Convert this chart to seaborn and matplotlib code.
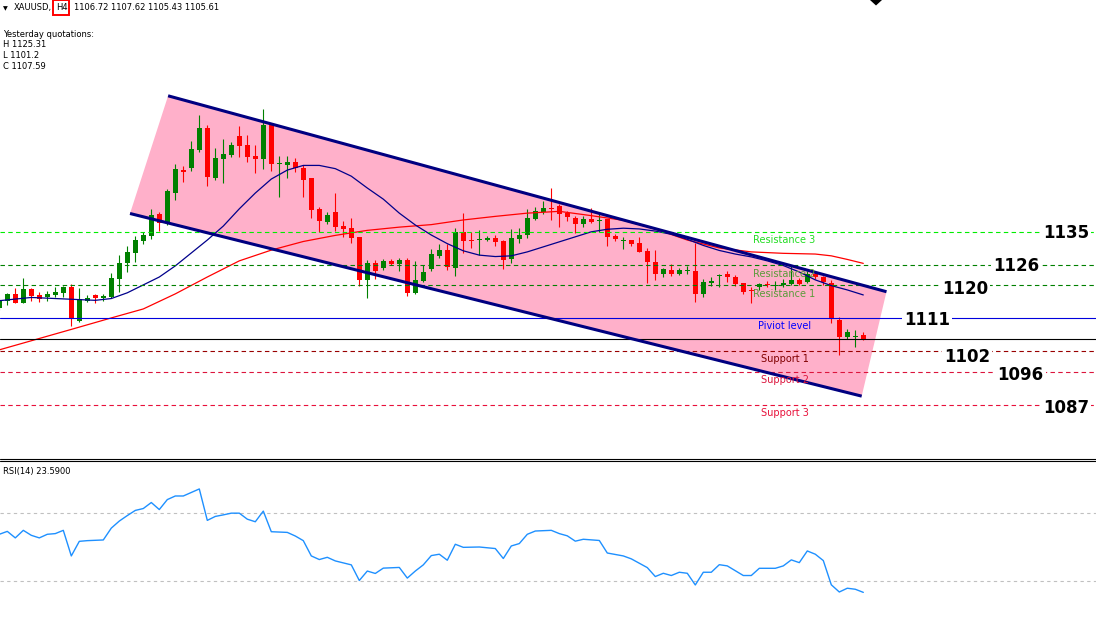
import numpy as np
import matplotlib
matplotlib.use('Agg')
import matplotlib.pyplot as plt
import seaborn as sns
from matplotlib.lines import Line2D
from matplotlib.patches import Rectangle, Polygon

sns.set_theme(style='white')
plt.rcParams['font.family'] = ['DejaVu Sans']

W, H = 1096, 620

# ---------------- data: XAUUSD H4 candles ----------------
opens = [1114.3, 1116.3, 1118.2, 1115.7, 1119.6, 1117.9, 1117.3, 1117.9, 1118.5, 1120.1,
         1110.7, 1116.3, 1117.9, 1117.1, 1117.3, 1122.4, 1126.8, 1129.7, 1133.0, 1134.4,
         1140.5, 1137.9, 1146.3, 1152.5, 1153.2, 1158.3, 1164.4, 1150.6, 1155.8, 1156.9,
         1162.2, 1159.7, 1156.6, 1155.8, 1165.6, 1154.5, 1154.2, 1155.0, 1153.3, 1150.5,
         1141.9, 1138.3, 1141.0, 1137.2, 1136.6, 1134.1, 1122.2, 1126.8, 1125.5, 1127.4,
         1126.6, 1127.6, 1118.5, 1121.9, 1125.2, 1128.8, 1130.4, 1125.5, 1135.5, 1133.2,
         1133.2, 1133.1, 1133.8, 1132.9, 1127.8, 1133.5, 1134.6, 1139.1, 1141.0, 1142.1,
         1142.7, 1140.7, 1139.4, 1137.7, 1139.1, 1138.5, 1139.1, 1134.4, 1132.9, 1133.2,
         1132.4, 1130.2, 1127.1, 1123.7, 1124.9, 1123.7, 1124.6, 1124.6, 1118.2, 1121.2,
         1123.2, 1123.7, 1122.9, 1121.2, 1119.3, 1120.1, 1120.7, 1120.4, 1120.7, 1121.0,
         1122.1, 1121.5, 1123.7, 1122.9, 1121.2, 1110.9, 1106.2, 1106.2, 1106.72]
highs = [1117.1, 1118.5, 1119.8, 1122.6, 1119.8, 1118.7, 1119.0, 1120.0, 1120.4, 1121.0,
         1119.8, 1117.9, 1118.2, 1118.2, 1124.0, 1129.0, 1131.5, 1134.3, 1135.5, 1141.9,
         1141.0, 1147.4, 1154.4, 1153.9, 1160.8, 1168.1, 1165.3, 1158.9, 1161.4, 1160.5,
         1165.0, 1162.5, 1159.7, 1169.7, 1165.8, 1156.6, 1156.6, 1156.1, 1154.1, 1150.5,
         1142.4, 1141.0, 1146.3, 1138.6, 1139.4, 1134.1, 1127.6, 1127.6, 1127.9, 1127.9,
         1128.2, 1128.2, 1127.4, 1126.3, 1130.7, 1132.1, 1132.1, 1136.6, 1140.6, 1135.5,
         1136.0, 1134.3, 1134.6, 1133.2, 1136.3, 1136.6, 1141.9, 1142.4, 1144.1, 1147.7,
         1143.3, 1141.3, 1139.9, 1139.9, 1142.1, 1140.5, 1139.1, 1134.9, 1134.1, 1133.2,
         1134.1, 1131.0, 1130.4, 1125.4, 1126.5, 1125.4, 1126.0, 1132.4, 1122.4, 1122.9,
         1123.7, 1124.6, 1123.5, 1121.2, 1120.1, 1121.2, 1121.8, 1121.8, 1122.4, 1126.3,
         1122.6, 1124.6, 1124.3, 1123.2, 1122.1, 1111.8, 1108.4, 1108.2, 1107.62]
lows = [1113.7, 1115.1, 1115.7, 1115.7, 1116.3, 1116.0, 1116.3, 1117.3, 1117.3, 1109.3,
        1110.4, 1116.0, 1115.7, 1116.3, 1117.1, 1118.7, 1124.4, 1127.2, 1132.2, 1133.6,
        1135.8, 1137.4, 1144.4, 1149.5, 1152.5, 1157.8, 1148.3, 1149.9, 1149.0, 1156.4,
        1156.4, 1155.0, 1152.0, 1153.0, 1152.5, 1145.3, 1150.6, 1152.3, 1145.3, 1139.4,
        1135.5, 1137.8, 1135.8, 1134.1, 1132.4, 1120.5, 1117.1, 1122.4, 1124.9, 1126.3,
        1124.7, 1117.7, 1118.3, 1121.6, 1124.7, 1128.3, 1124.9, 1123.3, 1129.7, 1131.0,
        1129.0, 1132.8, 1131.6, 1125.2, 1126.9, 1132.4, 1133.8, 1138.8, 1140.5, 1138.8,
        1136.8, 1138.5, 1135.2, 1136.8, 1138.0, 1135.5, 1131.6, 1132.9, 1130.7, 1131.6,
        1129.9, 1121.3, 1122.1, 1122.9, 1123.2, 1123.5, 1123.7, 1115.9, 1117.4, 1120.4,
        1120.1, 1121.5, 1120.4, 1118.2, 1115.7, 1119.3, 1120.1, 1119.3, 1120.1, 1120.7,
        1120.7, 1121.2, 1122.4, 1120.7, 1110.1, 1101.2, 1105.6, 1103.4, 1105.43]
closes = [1116.5, 1118.2, 1115.7, 1119.6, 1117.6, 1116.9, 1118.2, 1118.7, 1120.1, 1111.2,
          1116.8, 1117.1, 1117.1, 1117.6, 1122.6, 1126.8, 1129.9, 1133.2, 1134.6, 1140.1,
          1137.9, 1146.9, 1153.0, 1152.3, 1158.6, 1164.4, 1150.9, 1156.1, 1157.2, 1159.7,
          1159.4, 1156.4, 1155.8, 1165.3, 1154.5, 1154.7, 1155.0, 1153.4, 1150.0, 1141.7,
          1138.6, 1140.2, 1136.9, 1136.4, 1133.8, 1122.1, 1126.8, 1124.6, 1127.4, 1126.6,
          1127.6, 1118.5, 1122.1, 1124.3, 1129.3, 1130.4, 1125.8, 1135.5, 1132.9, 1132.9,
          1133.5, 1133.8, 1132.7, 1127.6, 1133.8, 1134.6, 1139.4, 1141.3, 1142.1, 1141.8,
          1140.5, 1139.6, 1137.7, 1139.1, 1138.2, 1138.8, 1134.1, 1133.5, 1133.2, 1132.1,
          1129.9, 1127.1, 1123.7, 1125.1, 1123.7, 1124.9, 1124.9, 1118.2, 1121.5, 1121.8,
          1123.5, 1122.9, 1121.0, 1118.7, 1119.0, 1121.0, 1120.6, 1120.7, 1121.2, 1122.1,
          1121.0, 1123.7, 1122.9, 1121.5, 1111.2, 1106.2, 1107.6, 1106.5, 1105.61]

# moving averages (at candle positions)
ma_fast_idx = [0, 4, 8, 12, 14, 16, 18, 20, 22, 24, 26, 28, 30, 32, 34, 36, 38, 40, 42, 44,
               46, 48, 50, 52, 54, 56, 58, 60, 62, 64, 66, 68, 70, 72, 74, 76, 78, 80, 82, 84,
               86, 88, 90, 92, 94, 96, 98, 100, 102, 104, 106, 108]
ma_fast = [1116.3, 1117.2, 1116.8, 1116.4, 1116.9, 1118.5, 1120.7, 1122.9, 1126.0, 1129.6,
           1133.2, 1137.1, 1141.9, 1146.3, 1150.2, 1152.7, 1154.0, 1154.0, 1153.1, 1151.0,
           1147.7, 1144.6, 1140.7, 1137.4, 1134.6, 1132.2, 1130.2, 1129.0, 1128.6, 1128.8,
           1129.9, 1131.3, 1132.7, 1134.1, 1135.5, 1136.2, 1136.5, 1136.3, 1135.7, 1134.8,
           1133.4, 1131.7, 1130.3, 1129.3, 1128.5, 1127.4, 1126.1, 1124.3, 1122.1, 1120.5,
           1119.3, 1117.9]
ma_slow_idx = [0, 9, 14, 18, 22, 26, 30, 34, 38, 42, 46, 50, 54, 58, 62, 66, 70, 74, 78, 82,
               86, 90, 94, 98, 102, 104, 106, 108]
ma_slow = [1102.6, 1108.3, 1111.5, 1114.0, 1118.2, 1122.9, 1127.4, 1130.4, 1132.8, 1134.5,
           1135.9, 1136.8, 1137.5, 1138.8, 1139.8, 1140.7, 1141.2, 1140.0, 1138.7, 1136.3,
           1133.2, 1131.0, 1129.9, 1129.5, 1129.3, 1128.8, 1127.8, 1126.7]

# RSI(14)
rsi_idx = [0, 1, 2, 3, 4, 5, 6, 7, 8, 9, 10, 11, 13, 14, 15, 16, 17, 18, 19, 20, 21, 22, 23, 25,
           26, 27, 28, 29, 30, 31, 32, 33, 34, 36, 37, 38, 39, 40, 41, 42, 44, 45, 46, 47, 48,
           50, 51, 52, 53, 54, 55, 56, 57, 58, 60, 62, 63, 64, 65, 66, 67, 69, 70, 71, 72, 73,
           75, 76, 78, 79, 81, 82, 83, 84, 85, 86, 87, 88, 89, 90, 91, 93, 94, 95, 97, 98, 99,
           100, 101, 102, 103, 104, 105, 106, 107, 108]
rsi_val = [57.4, 59.1, 55.3, 59.7, 56.8, 55.3, 57.4, 57.8, 59.7, 44.8, 53.3, 53.7, 54.1, 61.0,
           65.1, 68.3, 71.3, 72.4, 75.9, 71.8, 77.6, 79.7, 79.7, 83.8, 65.5, 67.8, 68.7, 69.7,
           69.7, 66.2, 64.7, 70.9, 58.9, 58.5, 56.4, 53.7, 44.8, 42.7, 44.0, 41.9, 39.6, 30.5,
           36.0, 34.6, 37.7, 38.1, 31.9, 36.0, 39.6, 45.0, 45.8, 42.3, 51.6, 49.8, 50.0, 49.1,
           43.3, 50.6, 52.0, 57.4, 59.3, 59.7, 57.8, 56.5, 53.4, 54.5, 53.8, 46.5, 44.8, 43.1,
           38.0, 32.8, 34.7, 33.4, 35.3, 34.7, 27.9, 35.3, 35.3, 39.7, 39.0, 33.4, 33.4, 37.6,
           37.6, 39.0, 42.5, 40.9, 47.7, 45.8, 42.1, 28.0, 23.8, 26.0, 25.4, 23.59]

# Fibonacci pivot levels
level_names = ['Resistance 3', 'Resistance 2', 'Resistance 1', 'Piviot level',
               'Support 1', 'Support 2', 'Support 3']
level_values = [1135.48, 1126.27, 1120.58, 1111.37, 1102.16, 1096.47, 1087.26]
level_tags = ['1135', '1126', '1120', '1111', '1102', '1096', '1087']
current_price = 1105.61

# descending channel end points (candle index, price)
chan_top_x = [21.1, 110.9]
chan_top_y = [1173.4, 1118.8]
chan_bot_x = [16.34, 107.8]
chan_bot_y = [1140.6, 1089.7]

header = ['1106.72', '1107.62', '1105.43', '1105.61']
yesterday = ['H 1125.31', 'L 1101.2', 'C 1107.59']
rsi_label = 'RSI(14) 23.5900'

# ---------------- figure ----------------
fig = plt.figure(figsize=(W / 100, H / 100), dpi=100)
fig.patch.set_facecolor('white')
ax = fig.add_axes([0, 1 - 458 / H, 1, 458 / H])
rax = fig.add_axes([0, 0, 1, 159 / H])
for a in (ax, rax):
    a.set_facecolor('white')
    a.set_xticks([])
    a.set_yticks([])
    for s in a.spines.values():
        s.set_visible(False)
    a.set_xlim(0.0875, 137.0875)
ax.set_ylim(1072.46, 1200.1)
rax.set_ylim(7.5, 100.07)

# pink channel fill
ax.fill([chan_top_x[0], chan_top_x[1], chan_bot_x[1], chan_bot_x[0]],
        [chan_top_y[0], chan_top_y[1], chan_bot_y[1], chan_bot_y[0]],
        color='#ffb0ca', lw=0, zorder=1)

# candles
o = np.array(opens); h = np.array(highs); l = np.array(lows); c = np.array(closes)
x = np.arange(len(o))
cols = np.where(c >= o, '#008000', '#ff0000')
ax.vlines(x, l, h, colors=cols, lw=0.8, zorder=3)
ax.bar(x, np.maximum(np.abs(c - o), 0.3), bottom=np.minimum(o, c), width=0.6,
       color=cols, lw=0, zorder=3)

# moving averages
sns.lineplot(x=ma_slow_idx, y=ma_slow, ax=ax, color='#ff0000', lw=0.9,
             estimator=None, sort=False, zorder=4)
sns.lineplot(x=ma_fast_idx, y=ma_fast, ax=ax, color='#00008b', lw=0.9,
             estimator=None, sort=False, zorder=4)

# pivot lines
dash = (0, (4, 3))
lvl_style = [('#00ee00', dash), ('#008000', dash), ('#008000', dash), ('#0000dd', '-'),
             ('#990000', dash), ('#dc143c', dash), ('#e8103a', dash)]
for v, (col, ls) in zip(level_values, lvl_style):
    ax.axhline(v, color=col, ls=ls, lw=0.8, zorder=5)
ax.axhline(current_price, color='black', lw=0.8, zorder=5)

# channel lines
ax.plot(chan_top_x, chan_top_y, color='#000080', lw=2.2, zorder=6, solid_capstyle='butt')
ax.plot(chan_bot_x, chan_bot_y, color='#000080', lw=2.2, zorder=6, solid_capstyle='butt')


def ftext(px, py, s, **kw):
    return fig.text(px / W, 1 - py / H, s, **kw)


# level name labels
name_pos = [(752.7, 242.7), (752.7, 276.7), (752.7, 296.7), (758.3, 329.3),
            (760.7, 362.5), (760.7, 383.3), (760.7, 416)]
name_col = ['#22dd22', '#5b9b3a', '#5b9b3a', '#0000ff', '#800000', '#dc143c', '#e8103a']
for (px, py), s, col in zip(name_pos, level_names, name_col):
    ftext(px, py, s, fontsize=7, color=col, va='baseline', ha='left', zorder=7)

# big price tags
tag_pos = [(1066, 238.3), (1016, 270.7), (965, 294), (927, 325),
           (967, 361.7), (1020.5, 380), (1066, 412.7)]
for (px, py), s in zip(tag_pos, level_tags):
    ftext(px, py, s, fontsize=12, fontweight='bold', color='black', ha='center',
          va='baseline', zorder=8,
          bbox=dict(facecolor='white', edgecolor='none', pad=1.5))

# RSI panel
rax.axhline(70, color='#c0c0c0', ls=(0, (3, 3)), lw=0.8)
rax.axhline(30, color='#c0c0c0', ls=(0, (3, 3)), lw=0.8)
sns.lineplot(x=rsi_idx, y=rsi_val, ax=rax, color='#1e90ff', lw=1.0,
             estimator=None, sort=False)
ftext(3, 473.6, rsi_label, fontsize=6, color='black', va='baseline')

# separator double line
for py in (458.5, 460.5):
    fig.add_artist(Line2D([0, 1], [1 - py / H] * 2, transform=fig.transFigure,
                          color='black', lw=0.8))

# header
ftext(3, 10, '\u25bc', fontsize=4.5, color='black', va='baseline')
ftext(14, 10, 'XAUUSD,', fontsize=6, color='black', va='baseline')
ftext(56.5, 10, 'H4', fontsize=6, color='black', va='baseline')
ftext(74, 10, ' '.join(header), fontsize=6, color='black', va='baseline')
fig.add_artist(Rectangle((52.5 / W, 1 - 14.5 / H), 16.5 / W, 14 / H,
                         transform=fig.transFigure, fill=False,
                         edgecolor='#ff0000', lw=1.4))
ftext(3, 36.7, 'Yesterday quotations:', fontsize=6, color='black', va='baseline')
for i, s in enumerate(yesterday):
    ftext(3, 46.7 + i * 11.3, s, fontsize=6, color='black', va='baseline')

# shift marker at top (small black triangle)
fig.add_artist(Polygon([(870 / W, 1.0), (882 / W, 1.0), (876 / W, 1 - 5.5 / H)],
                       closed=True, transform=fig.transFigure,
                       facecolor='black', edgecolor='none'))

fig.savefig('out.png', dpi=100, facecolor='white')
